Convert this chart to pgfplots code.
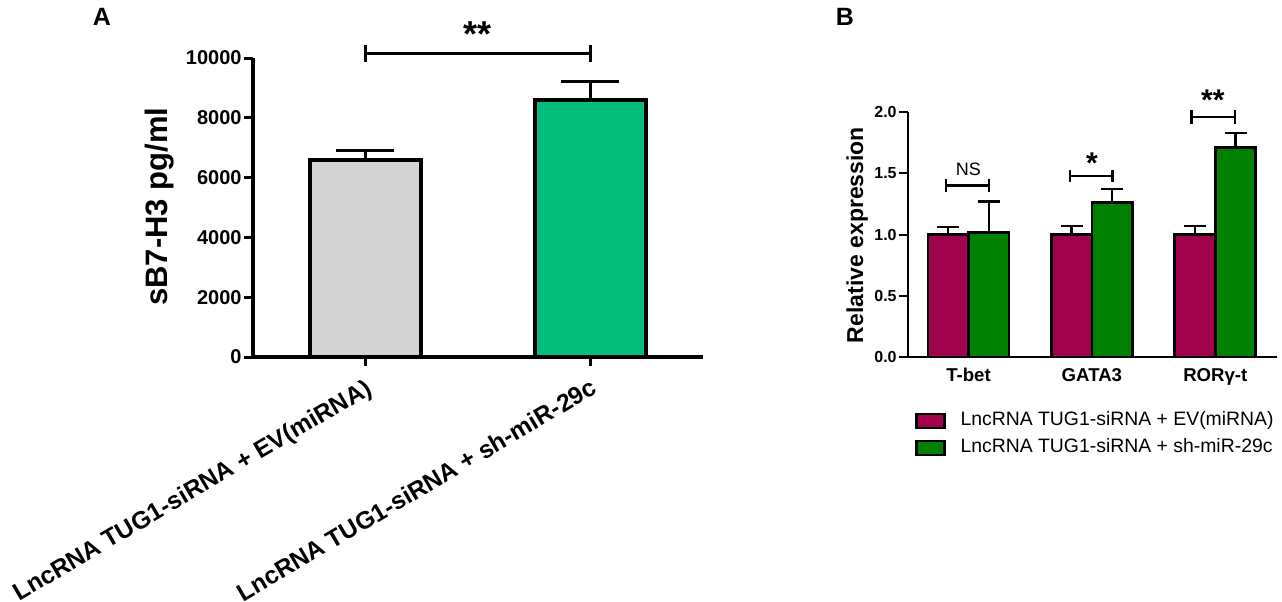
\documentclass[border=0pt]{standalone}
\usepackage{pgfplots}
\pgfplotsset{compat=1.18}
\usepackage{fontspec}
\setmainfont{Liberation Sans}
\definecolor{agray}{RGB}{211,211,211}
\definecolor{agreen}{RGB}{3,190,123}
\definecolor{bmag}{RGB}{160,2,76}
\definecolor{bgreen}{RGB}{0,128,0}
\pgfplotsset{sqlegend/.style={legend image code/.code={\path[draw=none,fill=none] (0pt,0pt) -- (21pt,0pt);\draw[##1, line width=1.1pt] (0pt,-3.5pt) rectangle (14pt,3.5pt);}}}
\begin{document}
\begin{tikzpicture}
\useasboundingbox (0,0) rectangle (641pt,300.5pt);
\node[font=\bfseries\fontsize{12.5}{12.5}\selectfont] at (51pt,292pt) {A};
\node[font=\bfseries\fontsize{12.5}{12.5}\selectfont] at (422.5pt,292pt) {B};
% ---------------- Panel A ----------------
\begin{axis}[
  at={(126.5pt,122pt)}, anchor=south west,
  scale only axis, width=225pt, height=149.5pt,
  xmin=-0.5, xmax=1.5, ymin=0, ymax=10000,
  axis lines*=left, axis line style={line width=1.75pt},
  clip=false,
  xtick={0,1},
  xticklabels={LncRNA TUG1-siRNA + EV(miRNA), LncRNA TUG1-siRNA + sh-miR-29c},
  ytick={0,2000,4000,6000,8000,10000},
  tick align=outside, major tick length=4.5pt,
  tick style={line width=1.5pt, black},
  /pgf/number format/assume math mode=true,
  scaled y ticks=false,
  yticklabel style={font=\bfseries\fontsize{10}{10}\selectfont, inner sep=1pt, /pgf/number format/1000 sep={}},
  xticklabel style={font=\bfseries\fontsize{12.3}{12.3}\selectfont, inner sep=0pt, xshift=-0.5pt, yshift=-5.5pt, rotate=30.5, anchor=north east},
  ylabel={sB7-H3 pg/ml},
  ylabel style={font=\bfseries\fontsize{15.5}{15.5}\selectfont, at={(axis description cs:-0.2067,0.503)}, anchor=center},
]
\addplot[ybar, bar width=0.49, bar shift=0pt, fill=agray, draw=black, line width=2pt,
  error bars/.cd, y dir=plus, y explicit,
  error bar style={line width=1.5pt, black},
  error mark options={rotate=90, line width=1.5pt, black, mark size=14.5pt}]
  coordinates {(0,6600) +- (0,300)};
\addplot[ybar, bar width=0.49, bar shift=0pt, fill=agreen, draw=black, line width=2pt,
  error bars/.cd, y dir=plus, y explicit,
  error bar style={line width=1.5pt, black},
  error mark options={rotate=90, line width=1.5pt, black, mark size=14.5pt}]
  coordinates {(1,8600) +- (0,600)};
\draw[line width=1.5pt] (axis cs:0,10167) -- (axis cs:1,10167);
\draw[line width=1.5pt] (axis cs:0,9866) -- (axis cs:0,10435);
\draw[line width=1.5pt] (axis cs:1,9866) -- (axis cs:1,10435);
\node[font=\bfseries\fontsize{18}{18}\selectfont, anchor=base, inner sep=0pt] at (axis cs:0.5,10400) {**};
\end{axis}
% ---------------- Panel B ----------------
\begin{axis}[
  at={(454pt,122pt)}, anchor=south west,
  scale only axis, width=184.5pt, height=122.5pt,
  xmin=-0.49, xmax=2.5, ymin=0, ymax=2,
  axis lines*=left, axis line style={line width=1pt},
  clip=false,
  ybar=0pt, bar width=20.25pt,
  xtick={0,1,2}, xticklabels={T-bet,GATA3,RORγ-t},
  x tick style={draw=none},
  ytick={0,0.5,1,1.5,2},
  tick align=outside, major tick length=4.5pt,
  y tick style={line width=1pt, black},
  /pgf/number format/assume math mode=true,
  yticklabel style={font=\bfseries\fontsize{8}{8}\selectfont, inner sep=1pt, /pgf/number format/.cd, fixed, fixed zerofill, precision=1},
  xticklabel style={font=\bfseries\fontsize{9.3}{9.3}\selectfont, inner sep=0pt, yshift=-1pt, anchor=north},
  ylabel={Relative expression},
  ylabel style={font=\bfseries\fontsize{11.5}{11.5}\selectfont, at={(axis description cs:-0.138,0.498)}, anchor=center},
  legend style={at={(axis description cs:0.019,-0.2145)}, anchor=north west, draw=none, fill=none,
    font=\fontsize{9.7}{9.7}\selectfont, inner sep=0pt, row sep=2.5pt,
    nodes={inner sep=1pt, text height=7pt, text depth=2pt}},
  legend cell align=left,
]
\addplot[fill=bmag, draw=black, line width=1.3pt, sqlegend,
  error bars/.cd, y dir=plus, y explicit,
  error bar style={line width=1.2pt, black},
  error mark options={rotate=90, line width=1.2pt, black, mark size=5.5pt}]
  coordinates {(0,1.0) +- (0,0.06) (1,1.0) +- (0,0.07) (2,1.0) +- (0,0.07)};
\addlegendentry{LncRNA TUG1-siRNA + EV(miRNA)}
\addplot[fill=bgreen, draw=black, line width=1.3pt, sqlegend,
  error bars/.cd, y dir=plus, y explicit,
  error bar style={line width=1.2pt, black},
  error mark options={rotate=90, line width=1.2pt, black, mark size=5.5pt}]
  coordinates {(0,1.015) +- (0,0.255) (1,1.263) +- (0,0.107) (2,1.71) +- (0,0.12)};
\addlegendentry{LncRNA TUG1-siRNA + sh-miR-29c}
% significance brackets
\draw[line width=1.2pt] (axis cs:-0.182,1.40) -- (axis cs:0.166,1.40);
\draw[line width=1.2pt] (axis cs:-0.182,1.35) -- (axis cs:-0.182,1.45);
\draw[line width=1.2pt] (axis cs:0.166,1.35) -- (axis cs:0.166,1.45);
\node[font=\fontsize{9}{9}\selectfont, inner sep=0pt] at (axis cs:0,1.535) {NS};
\draw[line width=1.2pt] (axis cs:0.822,1.48) -- (axis cs:1.168,1.48);
\draw[line width=1.2pt] (axis cs:0.822,1.43) -- (axis cs:0.822,1.53);
\draw[line width=1.2pt] (axis cs:1.168,1.43) -- (axis cs:1.168,1.53);
\node[font=\bfseries\fontsize{15}{15}\selectfont, anchor=base, inner sep=0pt] at (axis cs:1.0,1.50) {*};
\draw[line width=1.2pt] (axis cs:1.807,1.96) -- (axis cs:2.158,1.96);
\draw[line width=1.2pt] (axis cs:1.807,1.905) -- (axis cs:1.807,2.015);
\draw[line width=1.2pt] (axis cs:2.158,1.905) -- (axis cs:2.158,2.015);
\node[font=\bfseries\fontsize{15}{15}\selectfont, anchor=base, inner sep=0pt] at (axis cs:1.98,2.01) {**};
\end{axis}
\end{tikzpicture}
\end{document}
